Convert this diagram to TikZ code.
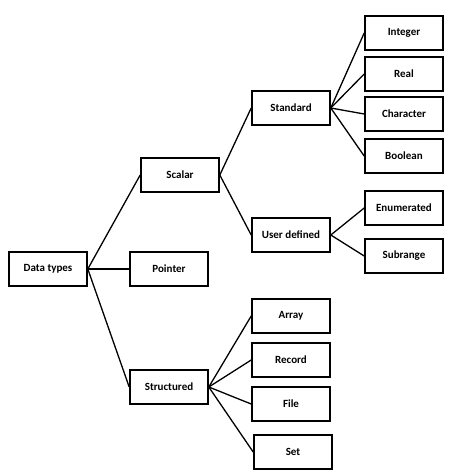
\documentclass[tikz,border=0pt]{standalone}
\usepackage{fontspec}
\setsansfont{Carlito}
\usepackage{tikz}

\begin{document}
\begin{tikzpicture}[auto, x=1pt, y=1pt, thick, main node/.style={rectangle,draw,line width=1.6pt,minimum width=78pt,minimum height=34pt,inner sep=0pt,font=\sffamily\bfseries\fontsize{11}{13}\selectfont}]
  \useasboundingbox (0,0) rectangle (450,-474);
  \node[main node] (dtypes) at (48,-269) {Data types};
  \node[main node] (pointer) [node distance=121pt, right of=dtypes] {Pointer};
  \node[main node] (scalar) [node distance=94pt, above of=pointer, xshift=11pt] {Scalar};
  \node[main node] (structured) [node distance=118pt, below of=pointer] {Structured};
  \node[main node] (standard) [node distance=111pt, right of=scalar, yshift=67pt] {Standard};
  \node[main node] (userdef) [node distance=127pt, below of=standard] {User defined};
  \node[main node] (integer) [node distance=113pt, right of=standard, yshift=75pt] {Integer};
  \node[main node] (real) [node distance=41pt, below of=integer] {Real};
  \node[main node] (character) [node distance=40pt, below of=real] {Character};
  \node[main node] (boolean) [node distance=42pt, below of=character] {Boolean};
  \node[main node] (enumerated) [node distance=52pt, below of=boolean] {Enumerated};
  \node[main node] (subrange) [node distance=48pt, below of=enumerated] {Subrange};
  \node[main node] (array) [node distance=122pt, right of=structured, yshift=71pt] {Array};
  \node[main node] (record) [node distance=44pt, below of=array] {Record};
  \node[main node] (file) [node distance=44pt, below of=record] {File};
  \node[main node] (set) [node distance=48pt, below of=file, xshift=2pt] {Set};

  \path[line width=1.3pt]
    (dtypes.east) edge (scalar.west)
    (dtypes.east) edge (pointer.west)
    (dtypes.east) edge (structured.west);
  \path[line width=1.3pt]
    (scalar.east) edge (standard.west)
    (scalar.east) edge (userdef.west);
  \path[line width=1.3pt]
    (standard.east) edge (integer.west)
    (standard.east) edge (real.west)
    (standard.east) edge (character.west)
    (standard.east) edge (boolean.west);
  \path[line width=1.3pt]
    (userdef.east) edge (enumerated.west)
    (userdef.east) edge (subrange.west);
  \path[line width=1.3pt]
    (structured.east) edge (array.west)
    (structured.east) edge (record.west)
    (structured.east) edge (file.west)
    (structured.east) edge (set.west);
\end{tikzpicture}
\end{document}
